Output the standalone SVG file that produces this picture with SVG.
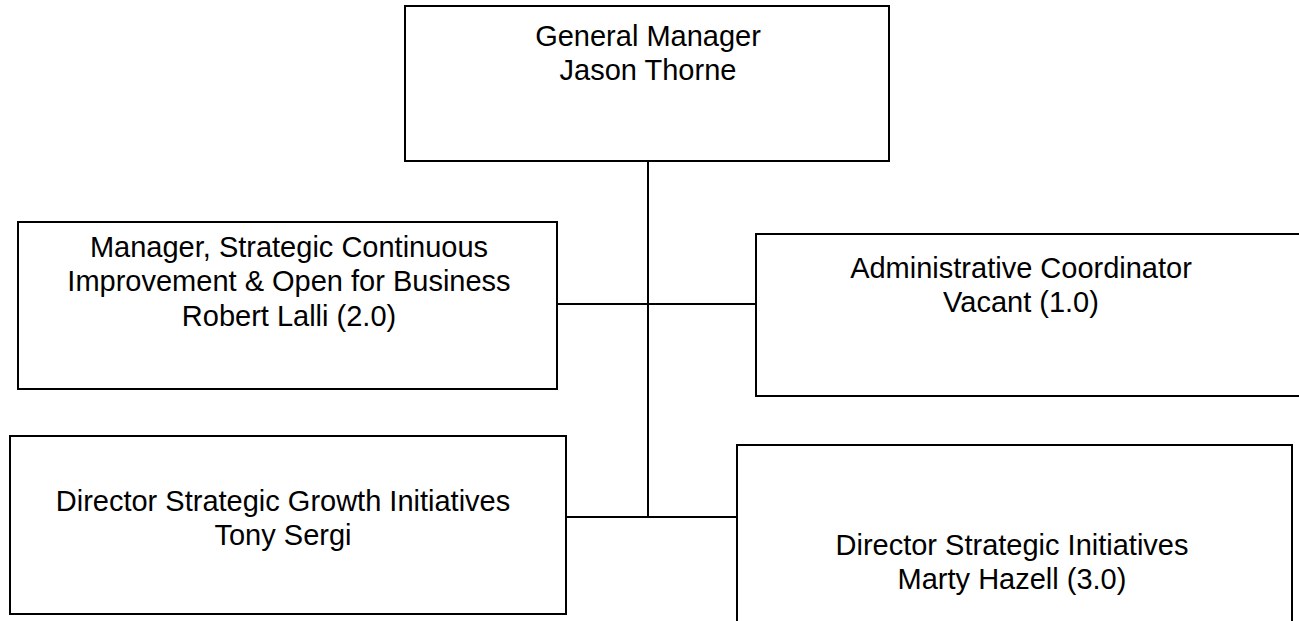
<svg xmlns="http://www.w3.org/2000/svg" width="1299" height="621" viewBox="0 0 1299 621">
<style>
.box{fill:#fff;stroke:#000;stroke-width:2}
.ln{stroke:#000;stroke-width:2;fill:none}
text{font-family:"Liberation Sans",Arial,sans-serif;font-size:29px;fill:#000;text-anchor:middle}
</style>
<rect width="1299" height="621" fill="#fff"/>
<g id="connectors">
<line class="ln" x1="648" y1="161" x2="648" y2="517"/>
<line class="ln" x1="557" y1="304" x2="756" y2="304"/>
<line class="ln" x1="566" y1="517" x2="737" y2="517"/>
</g>
<g id="gm">
<rect class="box" x="405" y="6" width="484" height="155"/>
<text x="648" y="46">General Manager</text>
<text x="648" y="80">Jason Thorne</text>
</g>
<g id="mgr">
<rect class="box" x="18" y="222" width="539" height="167"/>
<text x="289" y="257">Manager, Strategic Continuous</text>
<text x="289" y="291">Improvement &amp; Open for Business</text>
<text x="289" y="326">Robert Lalli (2.0)</text>
</g>
<g id="admin">
<rect class="box" x="756" y="234" width="560" height="162"/>
<text x="1021" y="278">Administrative Coordinator</text>
<text x="1021" y="312">Vacant (1.0)</text>
</g>
<g id="dsgi">
<rect class="box" x="10" y="436" width="556" height="178"/>
<text x="283" y="511">Director Strategic Growth Initiatives</text>
<text x="283" y="545">Tony Sergi</text>
</g>
<g id="dsi">
<rect class="box" x="737" y="445" width="555" height="190"/>
<text x="1012" y="555">Director Strategic Initiatives</text>
<text x="1012" y="589">Marty Hazell (3.0)</text>
</g>
</svg>
